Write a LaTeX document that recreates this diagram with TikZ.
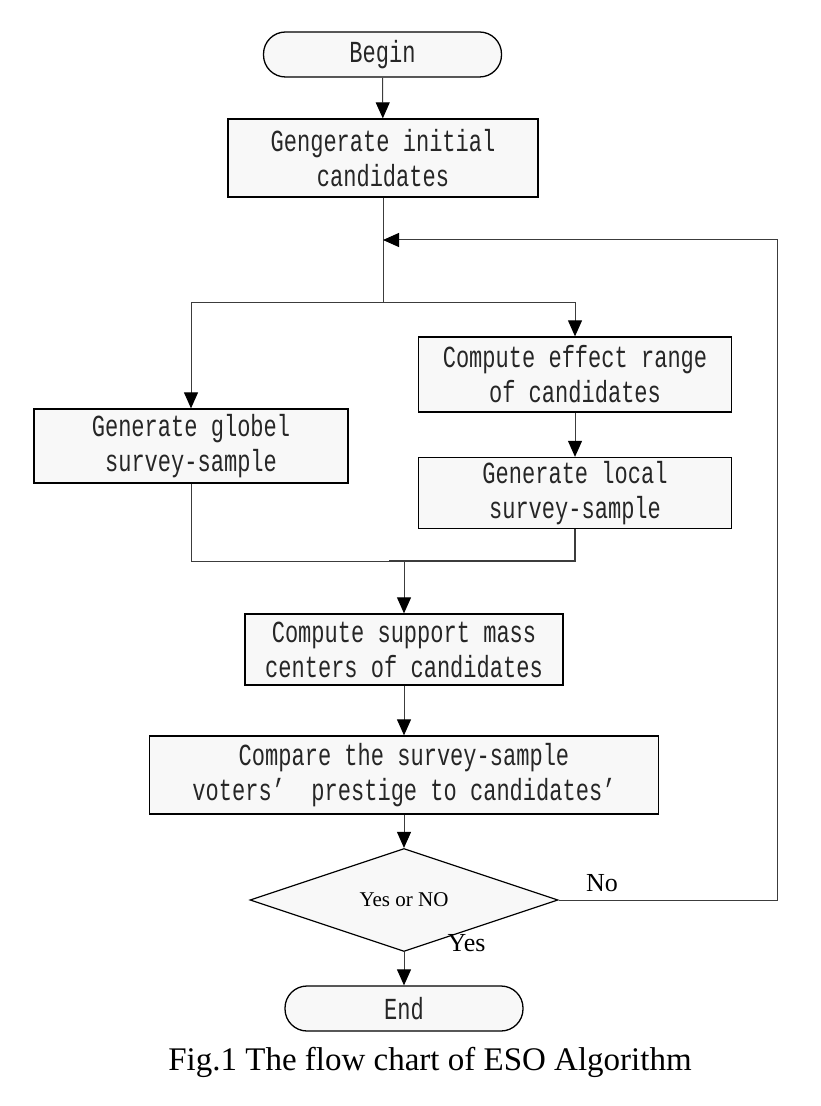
\documentclass[tikz,border=0pt]{standalone}
\usepackage{fontspec}
\setmainfont{Liberation Serif}
\newfontfamily\boxfont[FakeStretch=0.72]{Liberation Mono}
\usetikzlibrary{arrows.meta}
\usetikzlibrary{shapes.geometric}
\definecolor{boxgray}{HTML}{F8F8F8}
\definecolor{linegray}{HTML}{3C3C3C}

\begin{document}
\begin{tikzpicture}
	[x=0.5pt, y=-0.5pt,
	 procbox/.style={draw=black, line width=0.65pt, fill=boxgray, align=center, inner sep=0pt, text=black!85, font=\boxfont\fontsize{15.3}{17.5}\selectfont},
	 termbox/.style={procbox, rounded corners=11pt, minimum width=119pt, minimum height=22.5pt},
	 decbox/.style={diamond, draw=black, line width=0.6pt, fill=boxgray, inner sep=0pt, minimum width=154pt, minimum height=42pt, font=\fontsize{10.5}{12}\selectfont},
	 lbl/.style={inner sep=0pt, font=\fontsize{13}{15}\selectfont},
	 link/.style={draw=linegray, line width=0.5pt},
	 flowarrow/.style={link, -{Triangle[length=8pt,width=7pt,color=black]}}]
	\useasboundingbox (0,0) rectangle (820,1106);

	%Steps
	\node[termbox] (begin) at (382.5,54.5) {Begin};
	\node[procbox, minimum width=155pt, minimum height=39pt] (init) at (383,158) {Gengerate initial\\candidates};
	\node[procbox, minimum width=157pt, minimum height=37pt] (globel) at (191,446) {Generate globel\\survey-sample};
	\node[procbox, minimum width=156.5pt, minimum height=37.5pt] (effect) at (575,374.5) {Compute effect range\\of candidates};
	\node[procbox, minimum width=156.5pt, minimum height=35.5pt] (local) at (575,493) {Generate local\\survey-sample};
	\node[procbox, minimum width=159pt, minimum height=35.5pt] (support) at (404,649.5) {Compute support mass\\centers of candidates};
	\node[procbox, minimum width=254.5pt, minimum height=39pt] (compare) at (404,775) {Compare the survey-sample\\voters’\ \ prestige to candidates’\ };
	\node[decbox] (decide) at (404,900) {Yes or NO};
	\node[termbox] (finish) at (404,1008.5) {End};

	%Junctions
	\coordinate (loopin) at (383,240);
	\coordinate (split) at (383,303);
	\coordinate (merge) at (404,561);
	\coordinate (mergeleft) at (389,561);
	\coordinate (back) at (777,900);

	%Connectors
	\draw[flowarrow] (begin) -- (init);
	\draw[link] (init) -- (split);
	\draw[flowarrow] (split) -| (globel.north);
	\draw[flowarrow] (split) -| (effect.north);
	\draw[flowarrow] (effect) -- (local);
	\draw[link] (globel) |- (merge);
	\draw[link, line width=1pt] (local) |- (mergeleft);
	\draw[flowarrow] (merge) -- (support);
	\draw[flowarrow] (support) -- (compare);
	\draw[flowarrow] (compare) -- (decide);
	\draw[flowarrow] (decide) -- (finish);
	\draw[flowarrow] (decide.east) -- (back) |- (loopin);

	\node[lbl] (nolabel) at (602,883.5) {No};
	\node[lbl] (yeslabel) at (466.5,943.5) {Yes};

	\node[inner sep=0pt, font=\fontsize{16.5}{19}\selectfont] (caption) at (430,1062) {Fig.1 The flow chart of ESO Algorithm};
\end{tikzpicture}
\end{document}
